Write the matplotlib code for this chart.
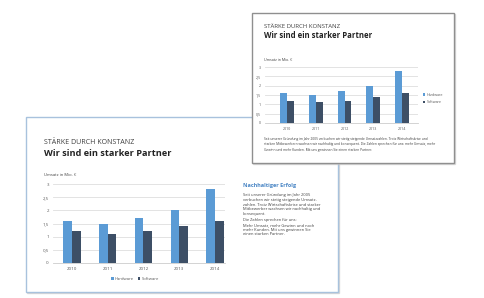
# Zwei Folien mit Umsatz-Balkendiagramm (Hardware / Software)

import matplotlib
matplotlib.use('Agg')
import numpy as np
import matplotlib.pyplot as plt
from matplotlib.patches import Rectangle

years = ['2010', '2011', '2012', '2013', '2014']
hardware = [1.6, 1.5, 1.7, 2.0, 2.8]
software = [1.2, 1.1, 1.2, 1.4, 1.6]
yticks = [0, 0.5, 1, 1.5, 2, 2.5, 3]
ytick_labels = ['0', '0,5', '1', '1,5', '2', '2,5', '3']
series_names = ['Hardware', 'Software']

kicker = 'STÄRKE DURCH KONSTANZ'
headline = 'Wir sind ein starker Partner'
unit_label = 'Umsatz in Mio. €'
side_title = 'Nachhaltiger Erfolg'
side_lines = ['Seit unserer Gründung im Jahr 2005',
              'verbuchen wir stetig steigende Umsatz-',
              'zahlen. Trotz Wirtschaftskrise und starker',
              'Mitbewerber wachsen wir nachhaltig und',
              'konsequent.',
              'Die Zahlen sprechen für uns:',
              'Mehr Umsatz, mehr Gewinn und noch',
              'mehr Kunden. Mit uns gewinnen Sie',
              'einen starken Partner.']
bottom_lines = ['Seit unserer Gründung im Jahr 2005 verbuchen wir stetig steigende Umsatzzahlen. Trotz Wirtschaftskrise und',
                'starken Mitbewerbern wachsen wir nachhaltig und konsequent. Die Zahlen sprechen für uns: mehr Umsatz, mehr',
                'Gewinn und mehr Kunden. Mit uns gewinnen Sie einen starken Partner.']

BLUE = '#5b9bd5'
DARK = '#3d4f66'
TEXT = '#404040'
FONT = 'Open Sans'
plt.rcParams['font.family'] = [FONT, 'DejaVu Sans']

W, H = 484, 298
fig = plt.figure(figsize=(W / 100, H / 100), dpi=100)
fig.patch.set_facecolor('white')


def box(x0, y0, x1, y1):
    return [x0 / W, 1 - y1 / H, (x1 - x0) / W, (y1 - y0) / H]


def slide(x0, y0, x1, y1, edge, z):
    ax = fig.add_axes(box(x0, y0, x1, y1), zorder=z)
    ax.set_xlim(x0, x1)
    ax.set_ylim(y1, y0)
    ax.axis('off')
    ax.add_patch(Rectangle((x0 + 1.2, y0 + 1.2), x1 - x0, y1 - y0, color='#c8c8c8',
                           alpha=0.6, clip_on=False, zorder=0))
    ax.add_patch(Rectangle((x0, y0), x1 - x0, y1 - y0, facecolor='white', edgecolor=edge,
                           lw=1.0, clip_on=False, zorder=1))
    return ax


def chart(rect, z, width, xlim, fs):
    ax = fig.add_axes(box(*rect), zorder=z)
    x = np.arange(len(years))
    ax.bar(x - width / 2, hardware, width, color=BLUE, label=series_names[0], zorder=3)
    ax.bar(x + width / 2, software, width, color=DARK, label=series_names[1], zorder=3)
    ax.set_xlim(*xlim)
    ax.set_ylim(0, 3)
    ax.set_yticks(yticks, ytick_labels)
    ax.set_xticks(x, years)
    ax.grid(axis='y', color='#dedede', lw=0.6)
    ax.set_axisbelow(True)
    for s in ['top', 'right', 'left']:
        ax.spines[s].set_visible(False)
    ax.spines['bottom'].set_color('#cccccc')
    ax.spines['bottom'].set_linewidth(0.6)
    ax.tick_params(length=0, labelsize=fs, colors='#595959', pad=3)
    ax.set_facecolor('none')
    return ax


# vordere Folie (unten links)
front = slide(26, 117, 338, 292, '#a8c2dd', 1)
front.text(44, 142, kicker, fontsize=5.1, color=TEXT, va='center')
front.text(44, 153, headline, fontsize=6.6, fontweight='bold', color='#222222', va='center')
front.text(44, 175, unit_label, fontsize=3, color=TEXT, va='center')
front.text(243, 185, side_title, fontsize=4, fontweight='bold', color='#4a86c5', va='center')
for i, line in enumerate(side_lines[:5]):
    front.text(243, 195 + i * 4.8, line, fontsize=2.9, color=TEXT, va='center')
for i, line in enumerate(side_lines[5:]):
    front.text(243, 220 + i * 4.8, line, fontsize=2.9, color=TEXT, va='center')

ax1 = chart((53, 184, 225, 263), 2, 0.24, (-0.53, 4.28), 3.2)
ax1.legend(loc='center', bbox_to_anchor=((112 + 158) / 2 / W, 1 - 279 / H), bbox_transform=fig.transFigure,
           ncol=2, frameon=False, fontsize=3, handlelength=0.6, handleheight=0.6,
           handletextpad=0.3, columnspacing=0.8, labelcolor='#595959')

# hintere Folie (oben rechts), liegt oben
back = slide(252, 13, 454, 163, '#8f8f8f', 3)
back.text(264, 27, kicker, fontsize=4.3, color=TEXT, va='center')
back.text(264, 36, headline, fontsize=5.6, fontweight='bold', color='#222222', va='center')
back.text(264, 60, unit_label, fontsize=2.6, color=TEXT, va='center')
for i, line in enumerate(bottom_lines):
    back.text(264, 139 + i * 5.5, line, fontsize=2.3, color=TEXT, va='center')

ax2 = chart((265, 67, 418, 123), 4, 0.24, (-0.77, 4.56), 2.6)
ax2.legend(loc='center left', bbox_to_anchor=(420 / W, 1 - 98.5 / H), bbox_transform=fig.transFigure,
           ncol=1, frameon=False, fontsize=2.6, handlelength=0.6, handleheight=0.6,
           handletextpad=0.4, labelspacing=0.9, labelcolor='#595959')

fig.savefig('out.png', dpi=100, facecolor='white')
